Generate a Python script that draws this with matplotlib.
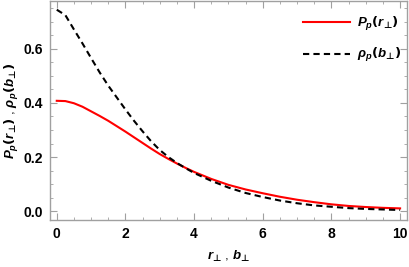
import matplotlib
matplotlib.use("Agg")
import matplotlib.pyplot as plt
from matplotlib.ticker import MultipleLocator, FormatStrFormatter

# values
r = [0, 0.25, 0.5, 0.75, 1.0, 1.25, 1.5, 1.75, 2.0, 2.25, 2.5, 2.75, 3.0,
     3.25, 3.5, 3.75, 4.0, 4.5, 5.0, 5.5, 6.0, 6.5, 7.0, 7.5, 8.0, 8.5,
     9.0, 9.5, 10.0]
P_p = [0.408, 0.407, 0.399, 0.386, 0.369, 0.352, 0.334, 0.314, 0.294, 0.273,
       0.252, 0.231, 0.211, 0.193, 0.176, 0.160, 0.145, 0.119, 0.097, 0.080,
       0.066, 0.053, 0.042, 0.033, 0.025, 0.019, 0.015, 0.012, 0.010]
rho_p = [0.745, 0.725, 0.672, 0.620, 0.566, 0.513, 0.464, 0.420, 0.376, 0.334,
         0.295, 0.258, 0.226, 0.200, 0.178, 0.159, 0.141, 0.112, 0.087, 0.067,
         0.052, 0.039, 0.029, 0.021, 0.016, 0.011, 0.008, 0.006, 0.004]

plt.rcParams['font.family'] = ['Liberation Sans', 'DejaVu Sans']
plt.rcParams['font.weight'] = 'bold'
plt.rcParams['mathtext.fontset'] = 'custom'
plt.rcParams['mathtext.it'] = 'Liberation Sans:bold:italic'
plt.rcParams['mathtext.rm'] = 'DejaVu Sans:bold'
plt.rcParams['mathtext.bf'] = 'DejaVu Sans:bold'

lab_P = '$P_p(r_{⊥})$'
lab_rho = r'$\rho_p(b_{⊥})$'
lab_x = '$r_{⊥}$ , $b_{⊥}$'

fig = plt.figure(figsize=(4.09, 2.67), dpi=100)
ax = fig.add_axes([0.122, 0.176, 0.873, 0.82])

ax.plot(r, P_p, color='red', lw=1.5, label=lab_P)
ax.plot(r, rho_p, color='black', lw=1.5, ls=(0, (3, 2)), label=lab_rho)

ax.set_xlim(-0.2, 10.2)
ax.set_ylim(-0.033, 0.777)
ax.xaxis.set_major_locator(MultipleLocator(2))
ax.xaxis.set_minor_locator(MultipleLocator(0.5))
ax.yaxis.set_major_locator(MultipleLocator(0.2))
ax.yaxis.set_minor_locator(MultipleLocator(0.05))
ax.yaxis.set_major_formatter(FormatStrFormatter('%.1f'))

for s in ax.spines.values():
    s.set_color('#a0a0a0')
    s.set_linewidth(1.0)
ax.tick_params(which='both', direction='in', top=True, right=True,
               color='#a0a0a0', labelsize=10, pad=5)
ax.tick_params(which='major', length=5)
ax.tick_params(which='minor', length=2.5)

ax.set_xlabel(lab_x, fontsize=9.5, labelpad=6)
ax.set_ylabel(lab_P + ' , ' + lab_rho, fontsize=9.5, labelpad=2)

ax.legend(loc='upper right', bbox_to_anchor=(0.998, 0.96), borderaxespad=0,
          frameon=False, fontsize=9.5, handlelength=3.6, handletextpad=0.5,
          labelspacing=1.0)

fig.savefig('out.png', dpi=100)
